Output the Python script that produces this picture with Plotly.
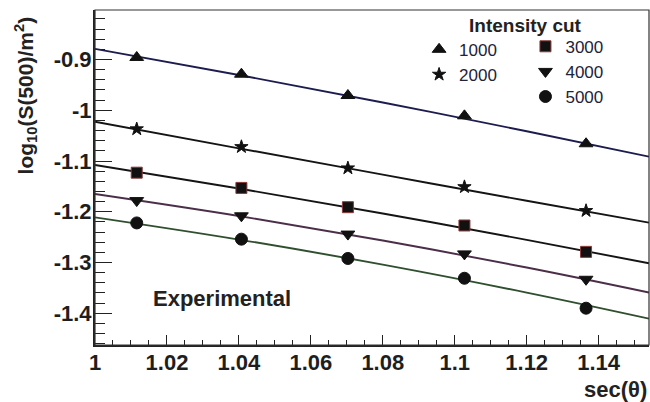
import plotly.graph_objects as go

# ---- data ----
sec_theta = [1.0116, 1.0407, 1.0703, 1.1027, 1.1365]
cut_1000 = [-0.896, -0.929, -0.971, -1.011, -1.066]
cut_2000 = [-1.037, -1.072, -1.114, -1.151, -1.198]
cut_3000 = [-1.123, -1.153, -1.191, -1.227, -1.279]
cut_4000 = [-1.178, -1.208, -1.244, -1.283, -1.333]
cut_5000 = [-1.222, -1.254, -1.292, -1.331, -1.390]

fit_x = [1.0, 1.04, 1.08, 1.12, 1.154]
fit_1000 = [-0.879, -0.9305, -0.9847, -1.0413, -1.0915]
fit_2000 = [-1.0225, -1.075, -1.1269, -1.1783, -1.2215]
fit_3000 = [-1.1078, -1.1542, -1.2034, -1.2553, -1.3015]
fit_4000 = [-1.165, -1.2083, -1.2566, -1.3098, -1.359]
fit_5000 = [-1.211, -1.2548, -1.3042, -1.3593, -1.4106]

cut_labels = ["1000", "2000", "3000", "4000", "5000"]
y_tickvals = [-0.9, -1.0, -1.1, -1.2, -1.3, -1.4]
y_ticktext = ["-0.9", "-1", "-1.1", "-1.2", "-1.3", "-1.4"]
x_tickvals = [1.0, 1.02, 1.04, 1.06, 1.08, 1.1, 1.12, 1.14]
x_ticktext = ["1", "1.02", "1.04", "1.06", "1.08", "1.1", "1.12", "1.14"]

series = [cut_1000, cut_2000, cut_3000, cut_4000, cut_5000]
fits = [fit_1000, fit_2000, fit_3000, fit_4000, fit_5000]
symbols = ["triangle-up", "star", "square", "triangle-down", "circle"]
msizes = [12, 10, 11, 12, 12]
mline = ["#111111", "#111111", "#8a3a3a", "#111111", "#111111"]
line_colors = ["#1c1c4e", "#141414", "#141414", "#4b2e48", "#2f4f2f"]
legend_ids = ["legend", "legend", "legend2", "legend2", "legend2"]

fig = go.Figure()
for fy, lc in zip(fits, line_colors):
    fig.add_trace(go.Scatter(x=fit_x, y=fy, mode="lines",
                             line=dict(color=lc, width=1.9, shape="spline"),
                             showlegend=False, hoverinfo="skip"))
for ys, sym, ms, ml, lab, lg in zip(series, symbols, msizes, mline, cut_labels, legend_ids):
    fig.add_trace(go.Scatter(x=sec_theta, y=ys, mode="markers", name=lab,
                             marker=dict(symbol=sym, size=ms, color="#111111",
                                         line=dict(color=ml, width=1)),
                             legend=lg))

tick_font = dict(family="Liberation Sans", size=22, color="#1e1e1e", weight="bold")
leg_font = dict(family="Liberation Sans", size=17, color="#22223a")

fig.update_layout(
    width=650, height=402,
    margin=dict(l=95, r=1, t=10, b=57),
    paper_bgcolor="white", plot_bgcolor="white",
    xaxis=dict(range=[1.0, 1.154], tickvals=x_tickvals, ticktext=x_ticktext,
               ticks="inside", ticklen=10, tickwidth=1.3, tickcolor="#222",
               minor=dict(dtick=0.005, tick0=1.0, ticks="inside", ticklen=5,
                          tickwidth=1.2, tickcolor="#222", showgrid=False),
               showgrid=False, zeroline=False,
               showline=True, linecolor="#222", linewidth=2,
               tickfont=tick_font, ticklabelstandoff=-3),
    yaxis=dict(range=[-1.4625, -0.8025], tickvals=y_tickvals, ticktext=y_ticktext,
               ticks="inside", ticklen=17, tickwidth=1.3, tickcolor="#222",
               minor=dict(dtick=0.02, tick0=0, ticks="inside", ticklen=10,
                          tickwidth=1.2, tickcolor="#222", showgrid=False),
               showgrid=False, zeroline=False,
               showline=True, linecolor="#222", linewidth=2,
               tickfont=tick_font, ticklabelstandoff=-3),
    legend=dict(x=0.585, y=0.935, xanchor="left", yanchor="top",
                bgcolor="rgba(0,0,0,0)", borderwidth=0, font=leg_font,
                itemsizing="trace", tracegroupgap=0),
    legend2=dict(x=0.777, y=0.944, xanchor="left", yanchor="top",
                 bgcolor="rgba(0,0,0,0)", borderwidth=0, font=leg_font,
                 itemsizing="trace", tracegroupgap=0),
    shapes=[dict(type="rect", xref="paper", yref="paper", x0=0, x1=1, y0=0, y1=1,
                 line=dict(color="#333", width=1.2))],
    annotations=[
        dict(text="<b>Intensity cut</b>", xref="paper", yref="paper",
             x=0.777, y=0.955, xanchor="center", yanchor="middle", showarrow=False,
             font=dict(family="Liberation Sans", size=19, color="#222")),
        dict(text="<b>Experimental</b>", x=1.0354, y=-1.37, xref="x", yref="y",
             xanchor="center", yanchor="middle", showarrow=False,
             font=dict(family="Liberation Sans", size=22, color="#222")),
        dict(text="<b>sec(θ)</b>", xref="paper", yref="paper", x=1.0, y=-0.134,
             xanchor="right", yanchor="middle", showarrow=False,
             font=dict(family="Liberation Sans", size=22, color="#222")),
        dict(text="<b>log<sub>10</sub>(S(500)/m<sup>2</sup>)</b>", xref="paper", yref="paper",
             x=-0.1258, y=0.746, xanchor="center", yanchor="middle", textangle=-90,
             showarrow=False,
             font=dict(family="Liberation Sans", size=21, color="#222")),
    ],
)

fig.write_html("out.html", config={"displayModeBar": False},
               post_script="document.body.style.margin='0';")
